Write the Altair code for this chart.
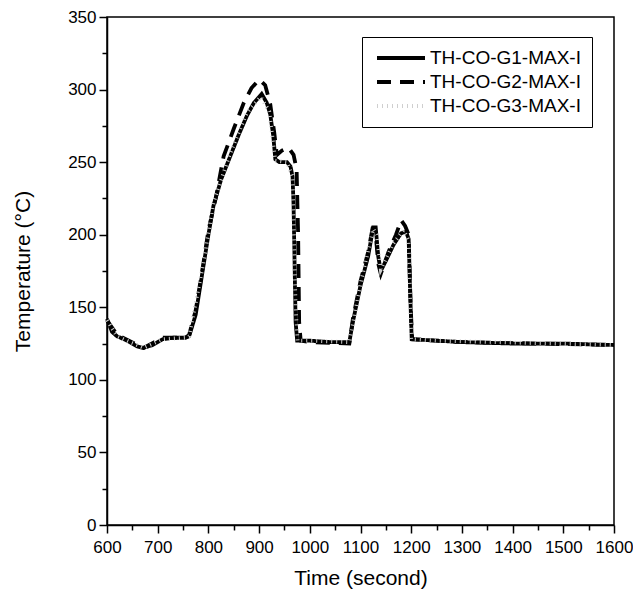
import altair as alt
import pandas as pd

series_names = ["TH-CO-G1-MAX-I", "TH-CO-G2-MAX-I", "TH-CO-G3-MAX-I"]

g1_time = [600, 610, 620, 640, 660, 672, 690, 710, 730, 755, 762, 775, 790, 800, 810, 825, 843, 860, 876, 890,
           905, 915, 922, 928, 932, 940, 955, 962, 966, 968, 970, 972, 975, 1000, 1040, 1078, 1085, 1100, 1115,
           1125, 1130, 1135, 1140, 1150, 1165, 1180, 1190, 1195, 1198, 1201, 1250, 1300, 1400, 1500, 1600]
g1_temp = [142, 133, 130, 127, 123, 122, 124, 128, 129, 129, 130, 145, 178, 200, 220, 238, 254, 269, 282, 291,
           297, 291, 283, 268, 252, 250, 250, 247, 240, 220, 180, 140, 127, 127, 126, 126, 140, 165, 185,
           205, 205, 185, 175, 182, 193, 201, 202, 197, 160, 128, 127, 126, 125, 125, 124]

g2_time = [600, 620, 672, 710, 755, 762, 775, 790, 800, 815, 830, 850, 870, 885, 900, 912, 922, 930, 935, 945,
           958, 968, 974, 977, 979, 982, 1000, 1078, 1085, 1100, 1115, 1123, 1130, 1135, 1140, 1155, 1170, 1180,
           1188, 1195, 1199, 1202, 1300, 1600]
g2_temp = [141, 131, 122, 129, 129, 131, 148, 180, 203, 226, 254, 273, 291, 301, 307, 303, 290, 270, 255, 258,
           260, 255, 245, 200, 140, 127, 126, 125, 142, 168, 188, 203, 200, 180, 173, 188, 200, 210,
           206, 200, 150, 128, 126, 124]

g3_time = [600, 620, 672, 710, 755, 762, 790, 810, 843, 876, 903, 920, 932, 955, 966, 972, 976, 1000, 1078,
           1100, 1125, 1132, 1140, 1165, 1185, 1195, 1200, 1250, 1600]
g3_temp = [141, 130, 122, 128, 129, 130, 180, 222, 256, 284, 295, 285, 251, 250, 240, 150, 127, 127, 126,
           166, 204, 200, 176, 194, 203, 196, 128, 127, 124]

frames = []
for name, t, v in zip(series_names, [g1_time, g2_time, g3_time], [g1_temp, g2_temp, g3_temp]):
    frames.append(pd.DataFrame({"time": t, "temp": v, "series": name}))
df = pd.concat(frames, ignore_index=True)

x_major = list(range(600, 1601, 100))
x_minor = list(range(650, 1600, 100))
y_major = list(range(0, 351, 50))
y_minor = list(range(25, 350, 50))

FONT = "Liberation Sans"

xscale = alt.Scale(domain=[600, 1600], nice=False, zero=False)
yscale = alt.Scale(domain=[0, 350], nice=False, zero=False)

legend = alt.Legend(title=None, orient="none", legendX=255, legendY=20,
                    strokeColor="black", fillColor="white", padding=11,
                    symbolType="M-3,0H3", symbolSize=256, symbolStrokeWidth=3.5,
                    symbolOffset=18,
                    labelFontSize=19, labelFont=FONT, labelColor="black",
                    rowPadding=4, labelOffset=19)

lines = alt.Chart(df).mark_line(interpolate="linear").encode(
    x=alt.X("time:Q", scale=xscale, title="Time (second)",
            axis=alt.Axis(values=x_major, orient="bottom", grid=False, tickSize=8, tickWidth=1.5,
                          tickColor="black", domainColor="black", domainWidth=1.5, format="d",
                          labelFontSize=17, labelFont=FONT, labelColor="black", labelPadding=6,
                          labelFlush=False, labelOverlap=False,
                          titleFontSize=21, titleFont=FONT, titleFontWeight="normal",
                          titleColor="black", titlePadding=12)),
    y=alt.Y("temp:Q", scale=yscale, title="Temperature (°C)",
            axis=alt.Axis(values=y_major, orient="left", grid=False, tickSize=8, tickWidth=1.5,
                          tickColor="black", domainColor="black", domainWidth=1.5, format="d",
                          labelFontSize=17, labelFont=FONT, labelColor="black", labelPadding=3,
                          labelFlush=False, labelOverlap=False,
                          titleFontSize=21, titleFont=FONT, titleFontWeight="normal",
                          titleColor="black", titlePadding=34)),
    color=alt.Color("series:N", scale=alt.Scale(domain=series_names, range=["black", "black", "#cfcfcf"]),
                    legend=legend),
    strokeDash=alt.StrokeDash("series:N",
                              scale=alt.Scale(domain=series_names, range=[[1, 0], [14, 9], [1, 4]]),
                              legend=legend),
    strokeWidth=alt.StrokeWidth("series:N",
                                scale=alt.Scale(domain=series_names, range=[3.8, 3.8, 1.5]),
                                legend=None),
    order=alt.Order("time:Q"),
)

minor = alt.Chart(df).mark_point(opacity=0).encode(
    x=alt.X("time:Q", scale=xscale, title=None,
            axis=alt.Axis(values=x_minor, orient="bottom", grid=False, tickSize=5, tickWidth=1.5,
                          tickColor="black", domain=False, labels=False)),
    y=alt.Y("temp:Q", scale=yscale, title=None,
            axis=alt.Axis(values=y_minor, orient="left", grid=False, tickSize=5, tickWidth=1.5,
                          tickColor="black", domain=False, labels=False)),
)

chart = alt.layer(lines, minor).resolve_axis(x="independent", y="independent").properties(
    width=507, height=508,
    padding={"left": 107, "top": 17, "right": 19, "bottom": 79},
    autosize=alt.AutoSizeParams(type="none"),
    background="white",
).configure_view(stroke="black", strokeWidth=1.5).configure_axis(
    titleFontSize=21, titleFont=FONT, labelFont=FONT
)

chart.save("out.html", embed_options={"renderer": "svg", "actions": False})
